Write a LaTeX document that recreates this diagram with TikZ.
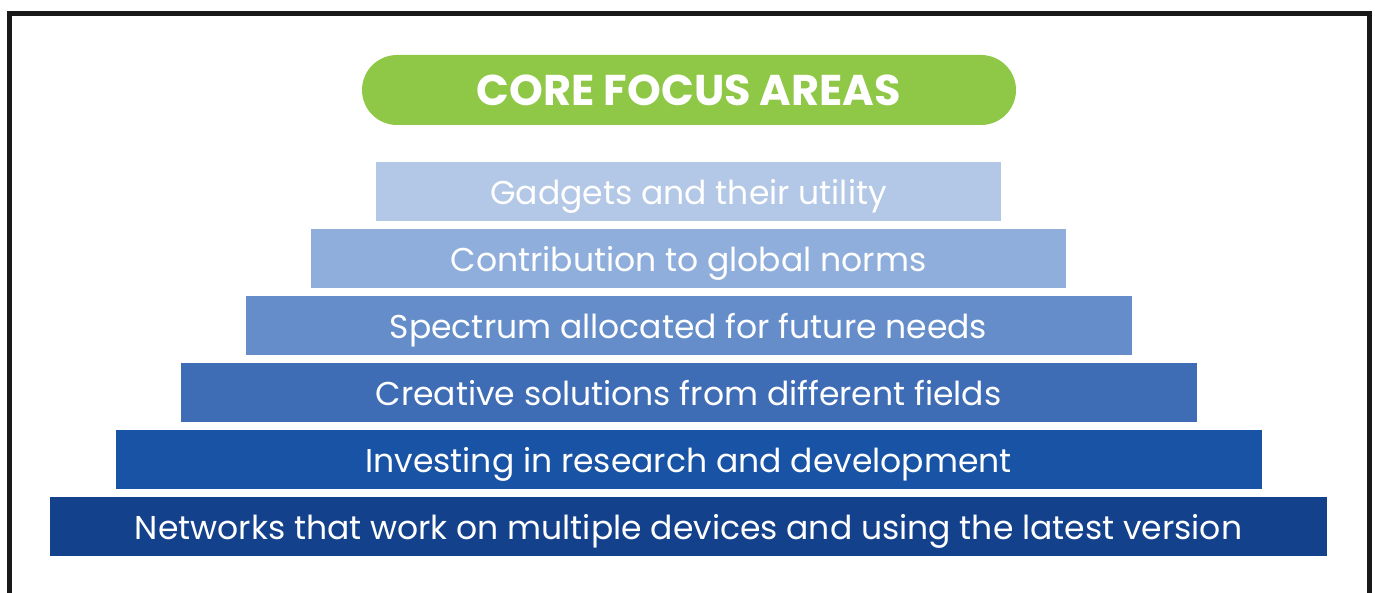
\documentclass[tikz,border=0pt]{standalone}
\usepackage{fontspec}
\setmainfont{Poppins}
\usepackage{tikz}
\usetikzlibrary{shapes}

\definecolor{focusgreen}{HTML}{8FC847}
\definecolor{tierA}{HTML}{B3C7E6}
\definecolor{tierB}{HTML}{8FAEDC}
\definecolor{tierC}{HTML}{648DCA}
\definecolor{tierD}{HTML}{3E6DB5}
\definecolor{tierE}{HTML}{1853A5}
\definecolor{tierF}{HTML}{14418C}

\tikzset{
  tier/.style={shape=rectangle, inner sep=0pt, minimum height=29.5pt, text height=13pt, text depth=0pt, text=white, font=\fontsize{16.5}{19}\selectfont},
  banner/.style={shape=rectangle, rounded corners=17.5pt, inner sep=0pt, minimum width=327pt, minimum height=35pt, text height=16pt, text depth=0pt, fill=focusgreen, text=white, font=\fontsize{21.5}{24}\bfseries\selectfont}
}

\begin{document}
\begin{tikzpicture}[x=0.5pt,y=-0.5pt]
\useasboundingbox (0,0) rectangle (1375,593);
\draw[line width=2.5pt, color=black!90] (9.5,600) -- (9.5,14) -- (1369,14) -- (1369,600);
\node [banner] (title) at (689,90) {CORE FOCUS AREAS};
\node [tier, fill=tierA, minimum width=312.5pt] (gadgets) at (688.5,191.5) {Gadgets and their utility};
\node [tier, fill=tierB, minimum width=377.5pt] (norms) at (688.5,258.5) {Contribution to global norms};
\node [tier, fill=tierC, minimum width=443pt] (spectrum) at (688.5,325.5) {Spectrum allocated for future needs};
\node [tier, fill=tierD, minimum width=508pt] (creative) at (688.5,392.5) {Creative solutions from different fields};
\node [tier, fill=tierE, minimum width=573pt] (invest) at (688.5,459.5) {Investing in research and development};
\node [tier, fill=tierF, minimum width=638.5pt] (networks) at (688.5,526.5) {Networks that work on multiple devices and using the latest version};
\end{tikzpicture}
\end{document}
